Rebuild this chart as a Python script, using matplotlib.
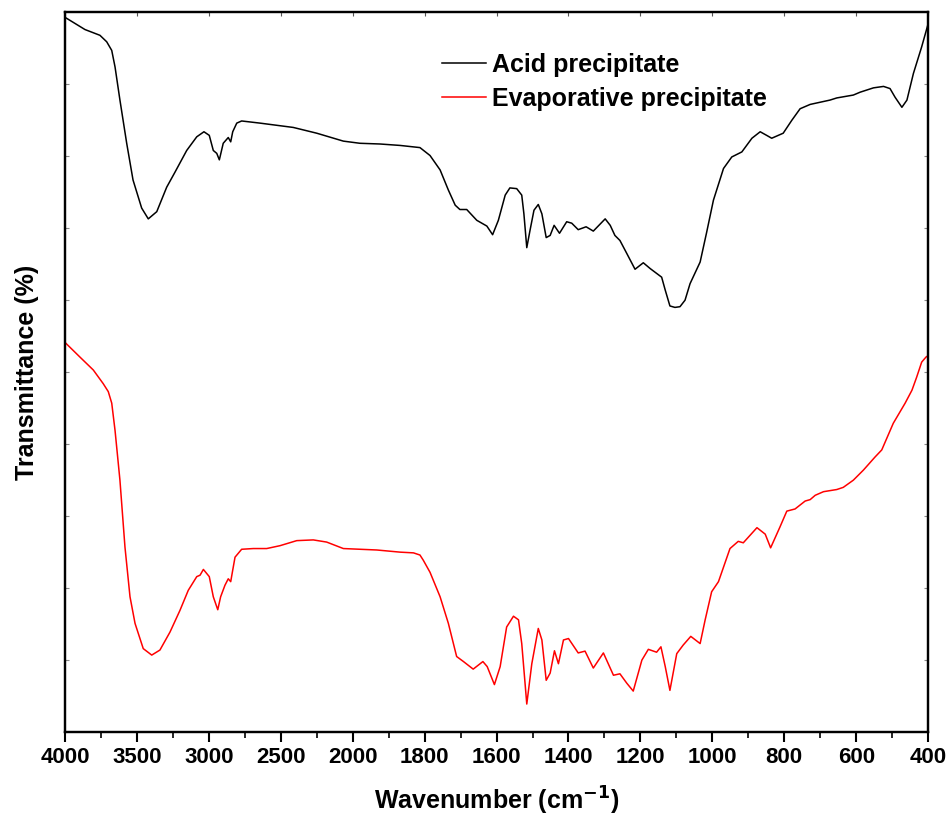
import numpy as np
import matplotlib
matplotlib.use('Agg')
import matplotlib.pyplot as plt

# FTIR spectra (transmittance in arbitrary %)
acid_wn = [4000, 3861, 3757, 3710, 3675, 3652, 3618, 3571, 3527, 3467, 3421, 3362,
           3293, 3235, 3154, 3084, 3034, 2997, 2969, 2945, 2927, 2900, 2865, 2848,
           2834, 2806, 2772, 2644, 2413, 2250, 2065, 1980, 1924, 1868, 1813, 1785,
           1757, 1734, 1715, 1702, 1683, 1655, 1627, 1611, 1595, 1576, 1563, 1544,
           1530, 1524, 1516, 1507, 1496, 1484, 1474, 1462, 1451, 1440, 1425, 1405,
           1391, 1373, 1351, 1331, 1298, 1284, 1271, 1257, 1238, 1215, 1192, 1173,
           1141, 1131, 1118, 1104, 1090, 1076, 1062, 1034, 1016, 997, 969, 946,
           918, 890, 867, 849, 835, 803, 779, 756, 728, 673, 654, 608,
           589, 552, 524, 506, 492, 473, 459, 441, 418, 400]
acid_t = [99.3, 97.6, 96.8, 95.9, 94.7, 92.4, 87.8, 81.8, 76.7, 72.8, 71.3, 72.3,
          75.7, 77.8, 80.8, 82.7, 83.4, 82.9, 80.8, 80.4, 79.5, 81.8, 82.6, 82.0,
          83.4, 84.6, 84.9, 84.6, 84.0, 83.2, 82.1, 81.8, 81.7, 81.5, 81.2, 80.1,
          78.1, 75.3, 73.2, 72.6, 72.6, 71.1, 70.3, 69.1, 71.1, 74.6, 75.6, 75.5,
          74.6, 72.0, 67.3, 69.7, 72.5, 73.3, 72.0, 68.7, 69.0, 70.4, 69.3, 70.9,
          70.7, 69.8, 70.2, 69.6, 71.3, 70.4, 69.0, 68.3, 66.5, 64.3, 65.2, 64.4,
          63.2, 61.4, 59.2, 59.0, 59.1, 60.0, 62.3, 65.3, 69.4, 73.9, 78.3, 79.9,
          80.6, 82.5, 83.4, 82.9, 82.5, 83.2, 85.0, 86.6, 87.2, 87.8, 88.1, 88.5,
          88.9, 89.5, 89.7, 89.4, 88.2, 86.8, 87.8, 91.5, 95.2, 98.4]

evap_wn = [3993, 3896, 3803, 3734, 3699, 3675, 3652, 3618, 3583, 3548, 3513, 3456,
           3397, 3340, 3270, 3201, 3143, 3084, 3061, 3038, 2997, 2969, 2938, 2918,
           2888, 2865, 2848, 2834, 2818, 2772, 2691, 2598, 2505, 2389, 2274, 2181,
           2065, 1933, 1868, 1831, 1813, 1804, 1785, 1757, 1734, 1711, 1692, 1665,
           1638, 1626, 1606, 1590, 1572, 1553, 1539, 1530, 1516, 1502, 1484, 1474,
           1462, 1451, 1439, 1428, 1414, 1400, 1373, 1354, 1331, 1303, 1275, 1257,
           1238, 1220, 1196, 1178, 1155, 1143, 1131, 1118, 1099, 1081, 1060, 1034,
           1020, 1002, 983, 951, 928, 914, 876, 853, 838, 812, 793, 770,
           742, 728, 714, 691, 654, 636, 608, 580, 548, 529, 497, 464,
           445, 432, 418, 406, 400]
evap_t = [54.0, 52.1, 50.3, 48.4, 47.3, 45.7, 41.9, 35.0, 25.7, 18.8, 15.1, 11.6,
          10.7, 11.4, 13.9, 16.9, 19.7, 21.6, 21.8, 22.6, 21.6, 18.8, 17.0, 18.8,
          20.4, 21.3, 20.9, 22.5, 24.3, 25.4, 25.5, 25.5, 25.9, 26.6, 26.7, 26.4,
          25.5, 25.3, 25.0, 24.9, 24.6, 23.9, 22.2, 18.8, 15.1, 10.5, 9.8, 8.75,
          9.8, 9.1, 6.6, 9.1, 14.6, 16.1, 15.6, 12.3, 3.9, 9.5, 14.4, 12.8,
          7.2, 8.2, 11.3, 9.5, 12.8, 13.0, 11.0, 11.25, 8.9, 11.0, 7.9, 8.1,
          6.8, 5.7, 10.0, 11.5, 11.1, 11.85, 9.1, 5.8, 10.9, 12.1, 13.3, 12.3,
          15.6, 19.5, 20.9, 25.5, 26.5, 26.3, 28.4, 27.5, 25.6, 28.5, 30.7, 31.0,
          32.1, 32.3, 32.9, 33.4, 33.7, 34.0, 35.0, 36.4, 38.2, 39.2, 42.9, 45.7,
          47.5, 49.3, 51.4, 52.1, 52.3]

xticks = [4000, 3500, 3000, 2500, 2000, 1800, 1600, 1400, 1200, 1000, 800, 600, 400]


# broken wavenumber axis: 500 cm-1 per division above 2000, 200 cm-1 below
def fwd(w):
    w = np.asarray(w, dtype=float)
    return np.where(w >= 2000, (w - 2000) / 500.0, (w - 2000) / 200.0)


def inv(p):
    p = np.asarray(p, dtype=float)
    return np.where(p >= 0, 2000 + 500.0 * p, 2000 + 200.0 * p)


plt.rcParams['font.family'] = ['Liberation Sans', 'DejaVu Sans']
plt.rcParams['font.weight'] = 'bold'
plt.rcParams['mathtext.default'] = 'bf'

fig = plt.figure(figsize=(9.5, 8.18), dpi=100)
ax = fig.add_axes([0.0684, 0.105, 0.9086, 0.880])

ax.plot(acid_wn, acid_t, color='black', lw=1.1, label='Acid precipitate')
ax.plot(evap_wn, evap_t, color='red', lw=1.1, label='Evaporative precipitate')

ax.set_xscale('function', functions=(fwd, inv))
ax.set_xlim(4000, 400)
ax.set_ylim(0, 100)
ax.set_xticks(xticks)
ax.set_xticklabels([str(t) for t in xticks])
mids = [(a + b) / 2 for a, b in zip(xticks[:-1], xticks[1:])]
ax.set_xticks(mids, minor=True)
ax.set_yticks(np.arange(10, 100, 10))
ax.set_yticklabels([])
ax.tick_params(axis='x', which='major', direction='out', length=7, width=1.5,
               labelsize=16, pad=4)
ax.tick_params(axis='x', which='minor', direction='out', length=4, width=1.2)
ax.tick_params(axis='y', which='major', direction='in', length=3, width=0.8,
               left=True, right=True, colors='#888888')

# top axis with small inward ticks
ax2 = ax.twiny()
ax2.set_xscale('function', functions=(fwd, inv))
ax2.set_xlim(4000, 400)
ax2.set_xticks(xticks)
ax2.set_xticklabels([])
ax2.tick_params(axis='x', direction='in', length=3, width=0.8, colors='#555555')

for a in (ax, ax2):
    for s in a.spines.values():
        s.set_linewidth(1.6)

ax.set_xlabel('Wavenumber (cm$^{-1}$)', fontsize=18, fontweight='bold',
              labelpad=12)
ax.set_ylabel('Transmittance (%)', fontsize=18, fontweight='bold', labelpad=15)

leg = ax.legend(loc='upper left', bbox_to_anchor=(0.437, 0.944), frameon=False,
                handlelength=1.75, handletextpad=0.25, labelspacing=0.42,
                borderaxespad=0, borderpad=0,
                prop={'size': 18, 'weight': 'bold'})

fig.savefig('out.png', dpi=100)
